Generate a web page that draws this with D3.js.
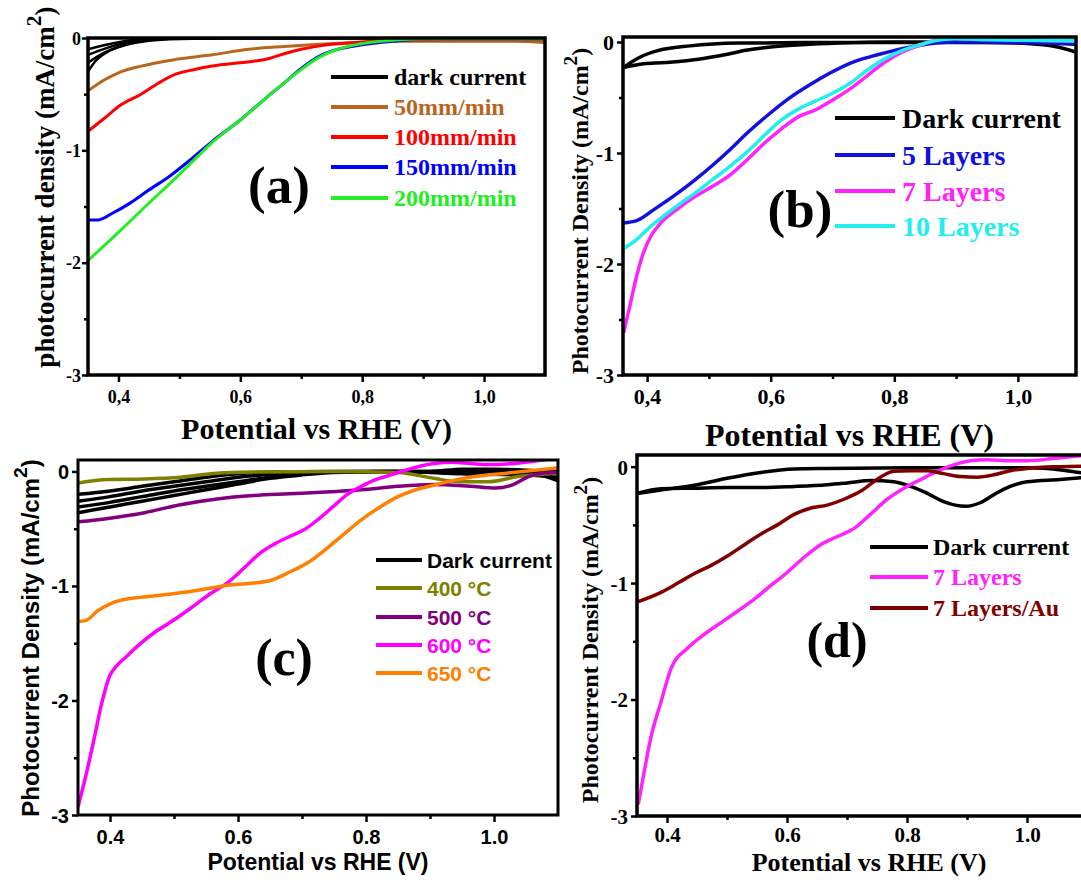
<!DOCTYPE html>
<html>
<head>
<meta charset="utf-8">
<script src="https://cdn.jsdelivr.net/npm/d3@7"></script>
<style>
  body { margin: 0; background: #fff; }
  svg { display: block; }
</style>
</head>
<body>
<svg id="fig" width="1081" height="884"></svg>
<script>
// ---- axis ticks (shared by the four panels)
const voltTicks = [0.4, 0.6, 0.8, 1.0];
const voltMinor = [0.5, 0.7, 0.9];
const currTicks = [0, -1, -2, -3];
const currMinor = [-0.5, -1.5, -2.5];

// ---- (a) withdrawal speed, [potential V, current mA/cm2]
const darkA1 = [[0.35,-0.30],[0.36,-0.22],[0.38,-0.13],[0.40,-0.08],[0.43,-0.04],[0.47,-0.015],[0.55,-0.005],[0.7,0],[1.1,0]];
const darkA2 = [[0.35,-0.22],[0.37,-0.15],[0.40,-0.08],[0.43,-0.035],[0.47,-0.01],[0.55,0],[1.1,0]];
const darkA3 = [[0.35,-0.15],[0.38,-0.09],[0.41,-0.045],[0.45,-0.015],[0.5,0],[1.1,0]];
const darkA4 = [[0.35,-0.10],[0.38,-0.06],[0.42,-0.02],[0.46,-0.005],[0.5,0],[1.1,0]];
const rate50 = [[0.35,-0.47],[0.378,-0.37],[0.40,-0.31],[0.437,-0.25],[0.495,-0.19],[0.554,-0.15],[0.613,-0.10],[0.672,-0.075],[0.73,-0.055],[0.79,-0.04],[0.85,-0.03],[0.95,-0.03],[1.05,-0.03],[1.1,-0.04]];
const rate100 = [[0.35,-0.83],[0.378,-0.71],[0.40,-0.61],[0.437,-0.50],[0.466,-0.40],[0.495,-0.32],[0.525,-0.28],[0.554,-0.25],[0.60,-0.22],[0.625,-0.205],[0.649,-0.18],[0.672,-0.14],[0.70,-0.10],[0.73,-0.07],[0.79,-0.04],[0.85,-0.02],[0.95,-0.015],[1.1,-0.015]];
const rate150 = [[0.35,-1.62],[0.366,-1.62],[0.39,-1.56],[0.419,-1.47],[0.448,-1.36],[0.484,-1.23],[0.519,-1.08],[0.554,-0.92],[0.60,-0.73],[0.643,-0.53],[0.672,-0.40],[0.70,-0.27],[0.73,-0.16],[0.76,-0.10],[0.80,-0.06],[0.85,-0.03],[0.90,-0.01],[1.1,-0.01]];
const rate200 = [[0.35,-1.98],[0.40,-1.73],[0.448,-1.48],[0.495,-1.24],[0.531,-1.05],[0.554,-0.93],[0.60,-0.73],[0.643,-0.53],[0.672,-0.40],[0.70,-0.28],[0.73,-0.17],[0.76,-0.10],[0.80,-0.05],[0.85,-0.02],[0.90,-0.008],[1.1,-0.008]];

// ---- (b) number of layers
const darkBUpper = [[0.362,-0.23],[0.375,-0.18],[0.389,-0.135],[0.416,-0.08],[0.47,-0.035],[0.55,-0.01],[0.65,-0.005],[0.95,-0.005],[1.02,-0.015],[1.06,-0.04],[1.094,-0.09]];
const darkBLower = [[0.362,-0.23],[0.389,-0.20],[0.43,-0.185],[0.47,-0.165],[0.50,-0.14],[0.53,-0.11],[0.56,-0.075],[0.60,-0.045],[0.65,-0.025],[0.71,-0.01],[0.8,0],[1.0,-0.005],[1.094,-0.02]];
const layers5 = [[0.362,-1.63],[0.383,-1.61],[0.411,-1.51],[0.45,-1.36],[0.478,-1.24],[0.506,-1.11],[0.534,-0.97],[0.562,-0.82],[0.595,-0.66],[0.629,-0.51],[0.662,-0.39],[0.696,-0.28],[0.729,-0.19],[0.763,-0.13],[0.802,-0.075],[0.841,-0.03],[0.897,0],[0.952,0],[1.008,-0.005],[1.094,-0.015]];
const layers7 = [[0.362,-2.62],[0.372,-2.38],[0.383,-2.11],[0.394,-1.90],[0.406,-1.75],[0.422,-1.63],[0.45,-1.50],[0.478,-1.39],[0.506,-1.30],[0.534,-1.20],[0.562,-1.06],[0.59,-0.91],[0.618,-0.78],[0.646,-0.67],[0.673,-0.61],[0.701,-0.52],[0.729,-0.42],[0.757,-0.30],[0.785,-0.18],[0.813,-0.09],[0.841,-0.03],[0.869,0.02],[0.897,0.04],[0.952,0.04],[1.008,0.02],[1.094,0.01]];
const layers10 = [[0.362,-1.86],[0.383,-1.78],[0.40,-1.69],[0.422,-1.59],[0.45,-1.47],[0.478,-1.36],[0.506,-1.24],[0.534,-1.12],[0.562,-0.99],[0.59,-0.84],[0.618,-0.70],[0.646,-0.60],[0.673,-0.53],[0.701,-0.46],[0.729,-0.37],[0.757,-0.25],[0.785,-0.15],[0.813,-0.075],[0.841,-0.025],[0.869,0.015],[0.897,0.03],[0.952,0.02],[1.008,0.015],[1.094,0.01]];

// ---- (c) annealing temperature
const darkC1 = [[0.35,-0.20],[0.40,-0.17],[0.45,-0.13],[0.50,-0.09],[0.55,-0.05],[0.60,-0.02],[0.65,-0.005],[0.75,0],[0.9,0],[0.95,0.02],[1.0,0.02],[1.05,0.01],[1.1,-0.01]];
const darkC2 = [[0.35,-0.26],[0.40,-0.22],[0.45,-0.17],[0.50,-0.13],[0.55,-0.09],[0.60,-0.05],[0.65,-0.025],[0.70,-0.01],[0.8,0],[1.0,-0.01],[1.07,-0.03],[1.1,-0.08]];
const darkC3 = [[0.35,-0.31],[0.40,-0.27],[0.45,-0.22],[0.50,-0.17],[0.55,-0.13],[0.60,-0.09],[0.65,-0.05],[0.70,-0.02],[0.75,-0.005],[0.85,0],[0.95,-0.02],[1.05,-0.03],[1.1,-0.05]];
const darkC4 = [[0.35,-0.36],[0.40,-0.31],[0.45,-0.26],[0.50,-0.21],[0.55,-0.16],[0.60,-0.11],[0.65,-0.06],[0.70,-0.03],[0.75,-0.01],[0.85,0],[1.1,0]];
const temp400 = [[0.35,-0.10],[0.397,-0.07],[0.454,-0.065],[0.51,-0.05],[0.567,-0.015],[0.624,-0.005],[0.75,0],[0.85,-0.01],[0.906,-0.06],[0.946,-0.09],[0.99,-0.09],[1.037,-0.045],[1.1,-0.015]];
const temp500 = [[0.35,-0.44],[0.397,-0.41],[0.454,-0.36],[0.51,-0.29],[0.567,-0.24],[0.624,-0.21],[0.68,-0.195],[0.737,-0.18],[0.793,-0.16],[0.85,-0.13],[0.906,-0.115],[0.963,-0.13],[1.003,-0.145],[1.03,-0.115],[1.054,-0.045],[1.076,-0.015],[1.1,-0.01]];
const temp600 = [[0.35,-2.93],[0.363,-2.64],[0.375,-2.34],[0.386,-2.05],[0.40,-1.78],[0.41,-1.70],[0.425,-1.62],[0.442,-1.53],[0.471,-1.40],[0.499,-1.30],[0.527,-1.19],[0.556,-1.07],[0.584,-0.97],[0.612,-0.83],[0.635,-0.71],[0.658,-0.63],[0.68,-0.57],[0.703,-0.51],[0.725,-0.42],[0.748,-0.31],[0.771,-0.20],[0.793,-0.13],[0.816,-0.07],[0.839,-0.03],[0.861,0.01],[0.906,0.07],[0.935,0.08],[0.963,0.07],[0.991,0.06],[1.031,0.07],[1.076,0.1],[1.1,0.12]];
const temp650 = [[0.35,-1.31],[0.363,-1.30],[0.38,-1.22],[0.403,-1.15],[0.431,-1.11],[0.465,-1.09],[0.51,-1.06],[0.556,-1.02],[0.59,-0.99],[0.624,-0.975],[0.652,-0.95],[0.68,-0.88],[0.708,-0.80],[0.737,-0.68],[0.765,-0.55],[0.793,-0.42],[0.822,-0.31],[0.85,-0.22],[0.878,-0.16],[0.906,-0.12],[0.935,-0.08],[0.963,-0.05],[1.02,-0.015],[1.1,0.03]];

// ---- (d) gold decoration
const darkDUpper = [[0.35,-0.23],[0.39,-0.2],[0.445,-0.16],[0.50,-0.10],[0.556,-0.05],[0.612,-0.02],[0.667,-0.015],[0.8,-0.01],[1.0,-0.01],[1.06,-0.03],[1.1,-0.06]];
const darkDLower = [[0.35,-0.23],[0.39,-0.19],[0.445,-0.185],[0.50,-0.18],[0.556,-0.18],[0.612,-0.17],[0.667,-0.155],[0.70,-0.14],[0.74,-0.12],[0.778,-0.13],[0.806,-0.17],[0.834,-0.23],[0.861,-0.30],[0.898,-0.34],[0.922,-0.31],[0.945,-0.24],[0.972,-0.17],[1.0,-0.13],[1.055,-0.11],[1.1,-0.09]];
const layers7d = [[0.352,-2.9],[0.362,-2.62],[0.373,-2.33],[0.39,-2.02],[0.407,-1.73],[0.434,-1.56],[0.462,-1.44],[0.49,-1.34],[0.518,-1.24],[0.545,-1.14],[0.573,-1.02],[0.60,-0.91],[0.628,-0.78],[0.656,-0.67],[0.684,-0.60],[0.712,-0.53],[0.739,-0.41],[0.767,-0.28],[0.795,-0.185],[0.823,-0.11],[0.85,-0.04],[0.878,0.015],[0.906,0.05],[0.933,0.06],[0.972,0.05],[1.0,0.05],[1.044,0.07],[1.1,0.1]];
const layers7Au = [[0.352,-1.16],[0.39,-1.08],[0.418,-1.0],[0.445,-0.92],[0.473,-0.85],[0.50,-0.77],[0.529,-0.67],[0.556,-0.58],[0.584,-0.50],[0.612,-0.41],[0.64,-0.355],[0.667,-0.33],[0.695,-0.28],[0.723,-0.21],[0.75,-0.11],[0.778,-0.04],[0.806,-0.035],[0.834,-0.035],[0.861,-0.06],[0.889,-0.085],[0.917,-0.09],[0.945,-0.07],[0.972,-0.035],[1.0,-0.015],[1.056,0],[1.1,0.005]];

const SERIF = "'Liberation Serif','Times New Roman',serif";
const SANS = "'Liberation Sans',Arial,sans-serif";

const commaFmt = d => d.toFixed(1).replace(".", ",");
const dotFmt = d => d.toFixed(1);
const currFmt = d => d === 0 ? "0" : "-" + Math.abs(d);

const svg = d3.select("#fig");

function drawPanel(p) {
    const g = svg.append("g").attr("class", "panel-" + p.id);
    const x = d3.scaleLinear().domain(p.xDomain).range([p.left, p.right]);
    const y = d3.scaleLinear().domain(p.yDomain).range([p.bottom, p.top]);

    svg.append("clipPath").attr("id", "clip-" + p.id)
        .append("rect")
        .attr("x", p.left).attr("y", p.top)
        .attr("width", p.right - p.left).attr("height", p.bottom - p.top);

    const line = d3.line()
        .x(d => x(d[0]))
        .y(d => y(d[1]))
        .curve(d3.curveMonotoneX);

    const plot = g.append("g").attr("clip-path", `url(#clip-${p.id})`);
    p.series.forEach(s => {
        s.data.forEach(branch => {
            plot.append("path")
                .attr("d", line(branch))
                .attr("fill", "none")
                .attr("stroke", s.color)
                .attr("stroke-width", s.width || p.lineWidth)
                .attr("stroke-linejoin", "round");
        });
    });

    // ticks: major + minor, outward
    const xg = g.append("g").attr("class", "x-ticks").attr("transform", `translate(0,${p.bottom})`);
    xg.append("g").call(d3.axisBottom(x).tickValues(voltTicks).tickSize(7).tickFormat(p.xFormat));
    xg.append("g").call(d3.axisBottom(x).tickValues(voltMinor).tickSize(4).tickFormat(""));
    const yg = g.append("g").attr("class", "y-ticks").attr("transform", `translate(${p.left},0)`);
    yg.append("g").call(d3.axisLeft(y).tickValues(currTicks).tickSize(6).tickFormat(currFmt));
    yg.append("g").call(d3.axisLeft(y).tickValues(currMinor).tickSize(4).tickFormat(""));

    g.selectAll(".domain").remove();
    g.selectAll(".tick line").attr("stroke", "#000").attr("stroke-width", 2.5);
    g.selectAll(".tick text")
        .attr("font-family", p.font)
        .attr("font-weight", "bold")
        .attr("font-size", p.tickSize)
        .attr("fill", "#000");
    // place tick labels where the reference has them
    xg.selectAll(".tick text").attr("y", p.xLabelOffset).attr("dy", "0.35em");
    yg.selectAll(".tick text").attr("x", -p.yLabelOffset).attr("dy", "0.35em");

    // frame
    g.append("rect")
        .attr("x", p.left).attr("y", p.top)
        .attr("width", p.right - p.left).attr("height", p.bottom - p.top)
        .attr("fill", "none").attr("stroke", "#000").attr("stroke-width", p.frameWidth);

    // axis titles
    g.append("text")
        .attr("x", (p.left + Math.min(p.right, 1081)) / 2 + (p.xTitleShift || 0))
        .attr("y", p.xTitleY)
        .attr("text-anchor", "middle")
        .attr("dominant-baseline", "central")
        .attr("font-family", p.font).attr("font-weight", "bold")
        .attr("font-size", p.xTitleSize)
        .text("Potential vs RHE (V)");

    const yt = g.append("text")
        .attr("transform", `translate(${p.yTitleX},${p.yTitleY}) rotate(-90)`)
        .attr("text-anchor", "middle")
        .attr("dominant-baseline", "central")
        .attr("font-family", p.font).attr("font-weight", "bold")
        .attr("font-size", p.yTitleSize);
    yt.append("tspan").text(p.yTitle + " (mA/cm");
    yt.append("tspan").attr("dy", -p.yTitleSize * 0.4).attr("font-size", p.yTitleSize * 0.8).text("2");
    yt.append("tspan").attr("dy", p.yTitleSize * 0.4).text(")");

    // legend
    const lg = g.append("g");
    p.series.forEach((s, i) => {
        const ly = p.legend.rows[i];
        lg.append("line")
            .attr("x1", p.legend.x1).attr("x2", p.legend.x2)
            .attr("y1", ly).attr("y2", ly)
            .attr("stroke", s.color).attr("stroke-width", p.legend.stroke);
        lg.append("text")
            .attr("x", p.legend.tx).attr("y", ly)
            .attr("dominant-baseline", "central")
            .attr("font-family", p.font).attr("font-weight", "bold")
            .attr("font-size", p.legend.size)
            .attr("fill", s.textColor || s.color)
            .text(s.name);
    });

    // panel letter
    g.append("text")
        .attr("x", p.tag.x).attr("y", p.tag.y)
        .attr("text-anchor", "middle")
        .attr("font-family", SERIF).attr("font-weight", "bold")
        .attr("font-size", p.tag.size)
        .text(p.tag.text);
}

drawPanel({
    id: "a", left: 88, right: 545, top: 38, bottom: 375,
    xDomain: [0.35, 1.1], yDomain: [-3, 0],
    font: SERIF, tickSize: 18, xFormat: commaFmt,
    xLabelOffset: 22, yLabelOffset: 7,
    lineWidth: 3, frameWidth: 3.5,
    xTitleY: 428, xTitleSize: 30,
    yTitle: "photocurrent density", yTitleX: 45, yTitleY: 187, yTitleSize: 27,
    legend: { x1: 331, x2: 388, tx: 394, rows: [77, 107, 137, 167, 198], size: 24, stroke: 4 },
    tag: { text: "(a)", x: 279, y: 203, size: 53 },
    series: [
        { name: "dark current", color: "#000", data: [darkA1, darkA2, darkA3, darkA4], width: 2.5 },
        { name: "50mm/min", color: "#b9651e", data: [rate50] },
        { name: "100mm/min", color: "#ff0000", data: [rate100] },
        { name: "150mm/min", color: "#0000ff", data: [rate150] },
        { name: "200mm/min", color: "#22ee22", data: [rate200] }
    ]
});

drawPanel({
    id: "b", left: 623, right: 1076, top: 37, bottom: 375,
    xDomain: [0.361, 1.094], yDomain: [-3, 0.045],
    font: SERIF, tickSize: 22, xFormat: commaFmt,
    xLabelOffset: 21, yLabelOffset: 9,
    lineWidth: 3.5, frameWidth: 3.5,
    xTitleY: 435, xTitleSize: 32,
    yTitle: "Photocurrent Density", yTitleX: 580, yTitleY: 211, yTitleSize: 24,
    legend: { x1: 835, x2: 895, tx: 902, rows: [118, 155, 191, 226], size: 28, stroke: 4 },
    tag: { text: "(b)", x: 800, y: 227, size: 53 },
    series: [
        { name: "Dark current", color: "#000", data: [darkBUpper, darkBLower] },
        { name: "5 Layers", color: "#1010e0", data: [layers5] },
        { name: "7 Layers", color: "#ff22ff", data: [layers7] },
        { name: "10 Layers", color: "#22eeee", data: [layers10] }
    ]
});

drawPanel({
    id: "c", left: 78, right: 558, top: 460, bottom: 815,
    xDomain: [0.35, 1.1], yDomain: [-3, 0.1],
    font: SANS, tickSize: 20, xFormat: dotFmt,
    xLabelOffset: 22, yLabelOffset: 9,
    lineWidth: 3.5, frameWidth: 3,
    xTitleY: 862, xTitleSize: 23,
    yTitle: "Photocurrent Density", yTitleX: 30, yTitleY: 638, yTitleSize: 24,
    legend: { x1: 376, x2: 422, tx: 427, rows: [560, 588, 617, 645, 673], size: 21, stroke: 4 },
    tag: { text: "(c)", x: 284, y: 675, size: 52 },
    series: [
        { name: "Dark current", color: "#000", data: [darkC1, darkC2, darkC3, darkC4] },
        { name: "400 °C", color: "#808000", data: [temp400] },
        { name: "500 °C", color: "#800080", data: [temp500] },
        { name: "600 °C", color: "#ff00ff", data: [temp600] },
        { name: "650 °C", color: "#ff8000", data: [temp650] }
    ]
});

drawPanel({
    id: "d", left: 637, right: 1087, top: 455, bottom: 816,
    xDomain: [0.35, 1.1], yDomain: [-3, 0.1],
    font: SERIF, tickSize: 21, xFormat: dotFmt,
    xLabelOffset: 19, yLabelOffset: 9,
    lineWidth: 3.5, frameWidth: 3.5,
    xTitleY: 862, xTitleSize: 26, xTitleShift: 10,
    yTitle: "Photocurrent Density", yTitleX: 590, yTitleY: 640, yTitleSize: 24,
    legend: { x1: 870, x2: 928, tx: 933, rows: [547, 577, 608], size: 24, stroke: 4 },
    tag: { text: "(d)", x: 837, y: 657, size: 50 },
    series: [
        { name: "Dark current", color: "#000", data: [darkDUpper, darkDLower] },
        { name: "7 Layers", color: "#ff22ff", data: [layers7d] },
        { name: "7 Layers/Au", color: "#800000", data: [layers7Au] }
    ]
});
</script>
</body>
</html>
